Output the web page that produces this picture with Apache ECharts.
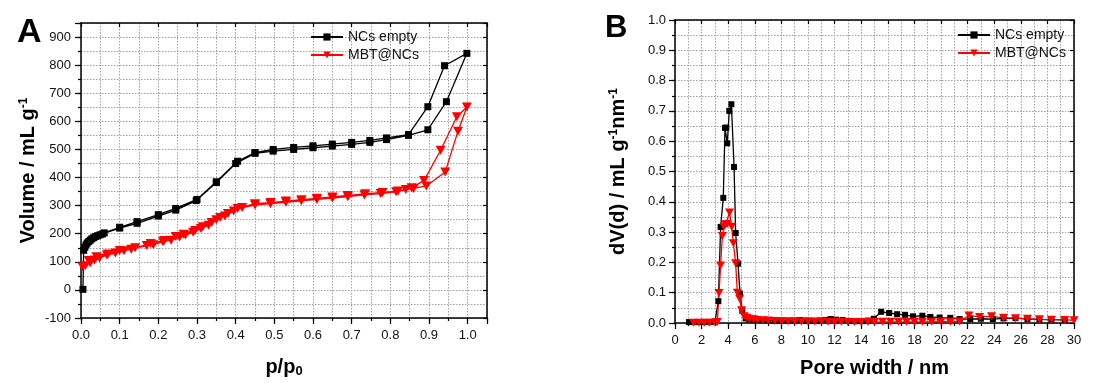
<!DOCTYPE html>
<html>
<head>
<meta charset="utf-8">
<script src="https://cdn.jsdelivr.net/npm/echarts@6/dist/echarts.min.js"></script>
<style>
html,body{margin:0;padding:0;background:#fff;}
#c{width:1093px;height:383px;}
</style>
</head>
<body>
<div id="c"></div>
<script>
// ---------- Panel A: isotherms (p/p0, volume mL/g) ----------
const emptyAdsP = [0.005,0.007,0.010,0.013,0.016,0.020,0.024,0.028,0.033,0.038,0.043,0.049,0.055,0.100,0.145,0.200,0.245,0.298,0.350,0.400,0.450,0.497,0.550,0.600,0.650,0.700,0.747,0.790,0.847,0.897,0.945,0.998];
const emptyAdsV = [2,141,152,160,167,172,177,182,186,190,193,196,199,220,237,263,284,318,382,450,486,494,500,506,512,518,525,535,550,570,670,842];
const emptyDesP = [0.940,0.897,0.847,0.790,0.747,0.700,0.650,0.600,0.550,0.497,0.450,0.405,0.350,0.300,0.245,0.200,0.145,0.100,0.060];
const emptyDesV = [798,652,553,541,532,525,519,513,507,500,489,458,385,322,290,268,243,223,203];

const mbtAdsP = [0.004,0.011,0.024,0.035,0.048,0.067,0.089,0.111,0.130,0.170,0.187,0.212,0.233,0.255,0.270,0.290,0.310,0.330,0.350,0.372,0.395,0.417,0.450,0.490,0.530,0.570,0.610,0.650,0.690,0.733,0.775,0.815,0.840,0.860,0.893,0.942,0.975,0.998];
const mbtAdsV = [82,86,97,106,114,124,131,139,145,158,161,171,177,188,195,205,219,230,250,263,281,293,302,307,312,317,322,327,332,338,343,349,357,361,370,420,565,651];
const mbtDesP = [0.972,0.930,0.887,0.855,0.820,0.780,0.735,0.690,0.650,0.610,0.570,0.530,0.490,0.450,0.405,0.380,0.360,0.338,0.315,0.295,0.265,0.245,0.215,0.180,0.140,0.100,0.070,0.040,0.020];
const mbtDesV = [616,497,389,364,352,347,342,336,331,326,321,316,311,307,290,272,258,240,225,211,198,190,176,165,150,140,128,118,105];

// ---------- Panel B: pore size distribution (nm, dV(d)) ----------
const psdEmptyW = [1.05,1.4,1.8,2.2,2.6,3.0,3.26,3.43,3.63,3.76,3.86,3.93,4.08,4.24,4.44,4.56,4.74,4.89,5.06,5.31,5.56,5.85,6.2,6.6,7.0,7.5,8.0,8.5,9.0,9.4,9.9,10.4,10.9,11.3,11.7,12.1,12.6,13.1,13.6,14.1,14.5,14.95,15.5,16.1,16.7,17.3,17.9,18.6,19.2,19.9,20.7,21.4,22.2,23.0,23.9,24.7,25.6,26.5,27.4,28.3,29.3];
const psdEmptyD = [0.003,0.003,0.003,0.003,0.003,0.004,0.072,0.317,0.413,0.644,0.645,0.593,0.700,0.722,0.515,0.297,0.196,0.097,0.040,0.015,0.012,0.011,0.010,0.009,0.009,0.008,0.008,0.007,0.008,0.010,0.008,0.007,0.008,0.010,0.013,0.011,0.010,0.007,0.006,0.006,0.008,0.014,0.037,0.033,0.029,0.027,0.022,0.024,0.020,0.018,0.017,0.013,0.013,0.014,0.013,0.015,0.016,0.013,0.012,0.011,0.010];
const psdMbtW = [1.4,1.8,2.2,2.6,3.0,3.18,3.31,3.43,3.56,3.68,3.81,3.93,4.10,4.26,4.39,4.56,4.69,4.86,5.01,5.2,5.4,5.6,5.9,6.2,6.6,7.0,7.5,8.0,8.5,9.0,9.5,10.0,10.5,11.0,11.5,12.0,12.5,13.0,13.5,14.0,14.5,15.0,15.6,16.2,16.8,17.4,18.0,18.6,19.3,20.0,20.7,21.4,22.1,22.9,23.8,24.7,25.6,26.5,27.4,28.3,29.3,30.0];
const psdMbtD = [0.001,0.001,0.001,0.001,0.002,0.003,0.099,0.190,0.287,0.318,0.326,0.327,0.365,0.318,0.263,0.197,0.100,0.080,0.042,0.022,0.017,0.014,0.012,0.010,0.009,0.008,0.007,0.006,0.006,0.005,0.005,0.005,0.005,0.005,0.004,0.004,0.004,0.003,0.003,0.003,0.003,0.003,0.004,0.004,0.004,0.004,0.004,0.004,0.004,0.005,0.004,0.005,0.025,0.020,0.022,0.017,0.016,0.014,0.012,0.011,0.010,0.009];

const seriesNames = ['NCs empty', 'MBT@NCs'];

function zip(a, b) { return a.map((v, i) => [v, b[i]]); }
const emptyLoop = zip(emptyAdsP, emptyAdsV).concat(zip(emptyDesP, emptyDesV));
const mbtLoop = zip(mbtAdsP, mbtAdsV).concat(zip(mbtDesP, mbtDesV));

const FONT = 'Liberation Sans, Arial, sans-serif';
const triDown = 'path://M0,0 L10,0 L5,9 Z';
const dotted = { show: true, lineStyle: { color: '#a0a0a0', type: [1.5, 1.5], width: 1 } };

function mainX(grid, min, max, step, fmt, name, gap) {
  return {
    type: 'value', gridIndex: grid, position: 'bottom', min: min, max: max, interval: step / 2,
    axisLine: { show: true, onZero: false, lineStyle: { color: '#000', width: 1.5 } },
    axisTick: { show: true, inside: false, length: 3, lineStyle: { color: '#000', width: 1.2 } },
    axisLabel: { show: true, color: '#111', fontSize: 13, fontFamily: FONT, margin: 11, formatter: fmt, showMaxLabel: true },
    splitLine: dotted,
    name: name, nameLocation: 'middle', nameGap: gap,
    nameTextStyle: { color: '#000', fontFamily: FONT }
  };
}
function majorX(grid, min, max, step) {
  return { type: 'value', gridIndex: grid, position: 'bottom', min: min, max: max, interval: step,
    axisLine: { show: false, onZero: false }, axisTick: { show: true, length: 6, lineStyle: { color: '#000', width: 1.2 } },
    axisLabel: { show: false }, splitLine: { show: false } };
}
function topX(grid, min, max, step) {
  return { type: 'value', gridIndex: grid, position: 'top', min: min, max: max, interval: step,
    axisLine: { show: true, onZero: false, lineStyle: { color: '#000', width: 1.5 } },
    axisTick: { show: true, inside: true, length: 4, lineStyle: { color: '#000', width: 1.2 } },
    axisLabel: { show: false }, splitLine: { show: false } };
}
function mainY(grid, min, max, step, fmt, name, gap, margin) {
  return {
    type: 'value', gridIndex: grid, position: 'left', min: min, max: max, interval: step / 2,
    axisLine: { show: true, onZero: false, lineStyle: { color: '#000', width: 1.5 } },
    axisTick: { show: true, inside: false, length: 3, lineStyle: { color: '#000', width: 1.2 } },
    axisLabel: { show: true, color: '#111', fontSize: 13, fontFamily: FONT, margin: margin, formatter: fmt },
    splitLine: dotted,
    name: name, nameLocation: 'middle', nameGap: gap, nameRotate: 90,
    nameTextStyle: { color: '#000', fontFamily: FONT }
  };
}
function majorY(grid, min, max, step) {
  return { type: 'value', gridIndex: grid, position: 'left', min: min, max: max, interval: step,
    axisLine: { show: false, onZero: false }, axisTick: { show: true, length: 6, lineStyle: { color: '#000', width: 1.2 } },
    axisLabel: { show: false }, splitLine: { show: false } };
}
function rightY(grid, min, max, step) {
  return { type: 'value', gridIndex: grid, position: 'right', min: min, max: max, interval: step,
    axisLine: { show: true, onZero: false, lineStyle: { color: '#000', width: 1.5 } },
    axisTick: { show: true, inside: true, length: 4, lineStyle: { color: '#000', width: 1.2 } },
    axisLabel: { show: false }, splitLine: { show: false } };
}

const fmtA_x = v => (Math.round(v * 20) % 2 === 0 && v < 1.001) ? v.toFixed(1) : '';
const fmtA_y = v => (Math.round(v) % 100 === 0 && v < 901) ? String(Math.round(v)) : '';
const fmtB_x = v => (Math.round(v) % 2 === 0) ? String(Math.round(v)) : '';
const fmtB_y = v => (Math.round(v * 20) % 2 === 0) ? v.toFixed(1) : '';

const titleRich = {
  a: { fontSize: 20, fontWeight: 'bold', fontFamily: FONT, color: '#000' },
  sup: { fontSize: 12, fontWeight: 'bold', fontFamily: FONT, color: '#000', verticalAlign: 'top', padding: [0, 0, 8, 0] },
  sub: { fontSize: 13, fontWeight: 'bold', fontFamily: FONT, color: '#000', verticalAlign: 'bottom', padding: [8, 0, 0, 0] }
};

const xA = mainX(0, 0, 1.05, 0.1, fmtA_x, '{a|p/p}{sub|0}', 39); xA.nameTextStyle.rich = titleRich;
const yA = mainY(0, -100, 950, 100, fmtA_y, '{a|Volume / mL g}{sup|-1}', 43, 10); yA.nameTextStyle.rich = titleRich;
const xB = mainX(1, 0, 30, 2, fmtB_x, '{a|Pore width / nm}', 35); xB.nameTextStyle.rich = titleRich;
const yB = mainY(1, 0, 1.0, 0.1, fmtB_y, '{a|dV(d) / mL g}{sup|-1}{a|nm}{sup|-1}', 47, 9); yB.nameTextStyle.rich = titleRich;

const legendBase = {
  orient: 'vertical', itemWidth: 32, itemHeight: 9, itemGap: 4,
  textStyle: { fontSize: 14, fontFamily: FONT, color: '#111' },
  data: seriesNames
};

const option = {
  animation: false,
  backgroundColor: '#fff',
  grid: [
    { left: 81, top: 23, width: 406, height: 303 },
    { left: 675, top: 20, width: 399, height: 303 }
  ],
  xAxis: [xA, majorX(0, 0, 1.05, 0.1), topX(0, 0, 1.05, 0.1),
          xB, majorX(1, 0, 30, 2), topX(1, 0, 30, 2)],
  yAxis: [yA, majorY(0, -100, 950, 100), rightY(0, -100, 950, 100),
          yB, majorY(1, 0, 1.0, 0.1), rightY(1, 0, 1.0, 0.1)],
  legend: [
    Object.assign({ left: 305, top: 25 }, legendBase),
    Object.assign({ left: 952, top: 23 }, legendBase)
  ],
  graphic: [
    { type: 'text', left: 17, top: 16, style: { text: 'A', font: 'bold 34px ' + FONT, fill: '#000' } },
    { type: 'text', left: 605, top: 13, style: { text: 'B', font: 'bold 31px ' + FONT, fill: '#000' } }
  ],
  series: [
    { name: seriesNames[0], type: 'line', xAxisIndex: 0, yAxisIndex: 0, data: emptyLoop,
      symbol: 'rect', symbolSize: 7, itemStyle: { color: '#000' }, lineStyle: { color: '#000', width: 1.3 } },
    { name: seriesNames[1], type: 'line', xAxisIndex: 0, yAxisIndex: 0, data: mbtLoop,
      symbol: triDown, symbolSize: [10, 9], itemStyle: { color: '#ff0000' }, lineStyle: { color: '#ff0000', width: 1.3 } },
    { name: seriesNames[0], type: 'line', xAxisIndex: 3, yAxisIndex: 3, data: zip(psdEmptyW, psdEmptyD),
      symbol: 'rect', symbolSize: 6, itemStyle: { color: '#000' }, lineStyle: { color: '#000', width: 1.3 } },
    { name: seriesNames[1], type: 'line', xAxisIndex: 3, yAxisIndex: 3, data: zip(psdMbtW, psdMbtD),
      symbol: triDown, symbolSize: [9, 8], itemStyle: { color: '#ff0000' }, lineStyle: { color: '#ff0000', width: 1.3 } }
  ]
};

const chart = echarts.init(document.getElementById('c'), null, { renderer: 'canvas' });
chart.setOption(option);
</script>
</body>
</html>
